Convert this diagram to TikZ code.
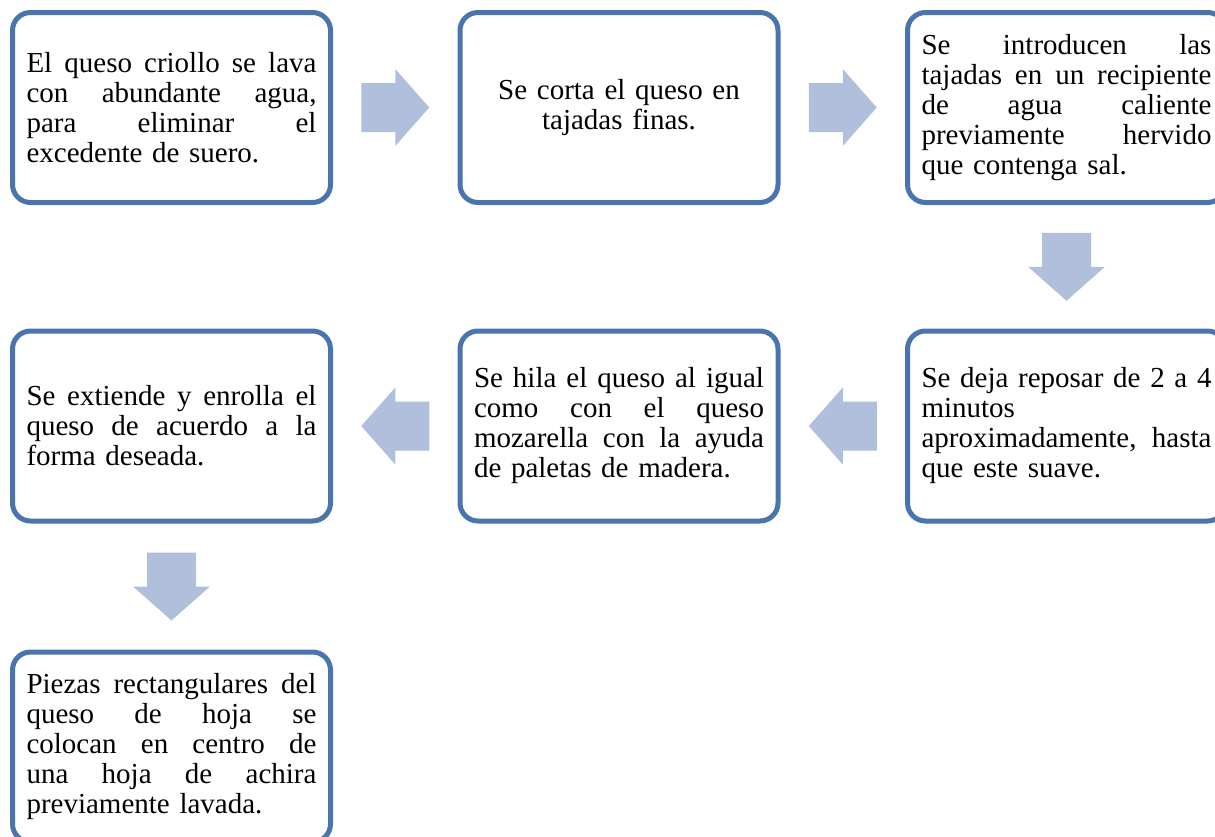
\documentclass[tikz,border=0pt]{standalone}
\usepackage{fontspec}
\setmainfont{Liberation Serif}
\usetikzlibrary{calc}
\definecolor{boxblue}{RGB}{74,117,172}
\definecolor{arrowfill}{RGB}{176,192,220}
\newcommand{\jl}[1]{\leavevmode\hbox to 290pt{#1}}
\newcommand{\gap}{\hfill}
\begin{document}
\begin{tikzpicture}[x=1pt,y=-1pt,
  stepbox/.style={draw=boxblue, line width=5pt, rounded corners=18pt, fill=white,
    minimum width=318pt, minimum height=190pt, text width=290pt, inner sep=0pt,
    font=\fontsize{29}{30}\selectfont, align=left},
  blockarrow/.pic={\fill[arrowfill] (-34,-24.5) -- (0,-24.5) -- (0,-38.5) -- (34,0)
    -- (0,38.5) -- (0,24.5) -- (-34,24.5) -- cycle;}]
\path[use as bounding box, clip] (0,0) rectangle (1215,836);

\node[stepbox] (b1) at (171.5,107.5) {\jl{El\gap queso\gap criollo\gap se\gap lava}\\\jl{con\gap abundante\gap agua,}\\\jl{para\gap eliminar\gap el}\\excedente de suero.};
\node[stepbox, align=center] (b2) at (619,107.5) {Se corta el queso en\\tajadas finas.};
\node[stepbox] (b3) at (1066.5,107.5) {\jl{Se\gap introducen\gap las}\\\jl{tajadas\gap en\gap un\gap recipiente}\\\jl{de\gap agua\gap caliente}\\\jl{previamente\gap hervido}\\que contenga sal.};
\node[stepbox] (b4) at (1066.5,426) {\jl{Se\gap deja\gap reposar\gap de\gap 2\gap a\gap 4}\\minutos\\\jl{aproximadamente,\gap hasta}\\que este suave.};
\node[stepbox] (b5) at (619,426) {\jl{Se\gap hila\gap el\gap queso\gap al\gap igual}\\\jl{como\gap con\gap el\gap queso}\\\jl{mozarella\gap con\gap la\gap ayuda}\\de paletas de madera.};
\node[stepbox] (b6) at (171.5,426) {\jl{Se\gap extiende\gap y\gap enrolla\gap el}\\\jl{queso\gap de\gap acuerdo\gap a\gap la}\\forma deseada.};
\node[stepbox] (b7) at (171.5,747) {\jl{Piezas\gap rectangulares\gap del}\\\jl{queso\gap de\gap hoja\gap se}\\\jl{colocan\gap en\gap centro\gap de}\\\jl{una\gap hoja\gap de\gap achira}\\previamente lavada.};

\pic at ($(b1.east)!0.5!(b2.west)$) {blockarrow};
\pic at ($(b2.east)!0.5!(b3.west)$) {blockarrow};
\pic[rotate=-90] at ($(b3.south)!0.5!(b4.north)$) {blockarrow};
\pic[rotate=180] at ($(b4.west)!0.5!(b5.east)$) {blockarrow};
\pic[rotate=180] at ($(b5.west)!0.5!(b6.east)$) {blockarrow};
\pic[rotate=-90] at ($(b6.south)!0.5!(b7.north)$) {blockarrow};
\end{tikzpicture}
\end{document}
